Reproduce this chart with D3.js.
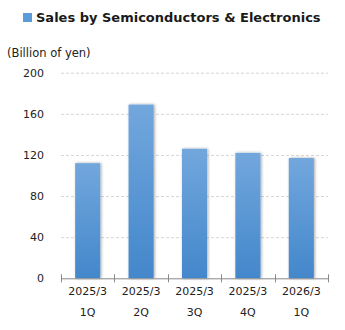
<!DOCTYPE html>
<html><head><meta charset="utf-8">
<script src="https://cdn.jsdelivr.net/npm/d3@7"></script>
<style>body{margin:0;background:#fff}svg{display:block}</style>
</head><body><svg id="c" width="345" height="330"></svg>
<script>
const categories = ["2025/3|1Q","2025/3|2Q","2025/3|3Q","2025/3|4Q","2026/3|1Q"];
const values = [112, 169, 126, 122, 117];
const yTicks = [0, 40, 80, 120, 160, 200];
const title = "Sales by Semiconductors & Electronics";
const unitLabel = "(Billion of yen)";

const svg = d3.select("#c");
const m = {l:61, r:328, t:72.7, b:278.3};
const x = d3.scaleBand().domain(categories).range([m.l, m.r]).paddingInner(0.53).paddingOuter(0.265);
const y = d3.scaleLinear().domain([0,200]).range([m.b, m.t]);

const defs = svg.append("defs");
const g = defs.append("linearGradient").attr("id","bg").attr("x1",0).attr("y1",0).attr("x2",0).attr("y2",1);
g.append("stop").attr("offset","0%").attr("stop-color","#72a7dd");
g.append("stop").attr("offset","100%").attr("stop-color","#4387cb");
const f = defs.append("filter").attr("id","sh").attr("x","-30%").attr("y","-10%").attr("width","160%").attr("height","120%");
f.append("feGaussianBlur").attr("in","SourceAlpha").attr("stdDeviation",1.5).attr("result","b");
f.append("feOffset").attr("in","b").attr("dx",1).attr("dy",0).attr("result","o");
f.append("feComponentTransfer").attr("in","o").attr("result","o2").append("feFuncA").attr("type","linear").attr("slope",0.35);
const mg = f.append("feMerge"); mg.append("feMergeNode").attr("in","o2"); mg.append("feMergeNode").attr("in","SourceGraphic");

// title
svg.append("rect").attr("x",23).attr("y",13).attr("width",9).attr("height",9).attr("fill","#5b9bd9");
svg.append("text").attr("x",36).attr("y",22).attr("font-family","DejaVu Sans").attr("font-weight","bold")
  .attr("font-size","13px").attr("fill","#1a1a1a").text(title);
svg.append("text").attr("x",7).attr("y",57).attr("font-family","DejaVu Sans").attr("font-size","11.5px")
  .attr("fill","#222").text(unitLabel);

// grid
svg.append("g").selectAll("line").data(yTicks.filter(d=>d>0)).join("line")
  .attr("x1",m.l).attr("x2",m.r).attr("y1",d=>y(d)+0.5).attr("y2",d=>y(d)+0.5)
  .attr("stroke","#d6d6d6").attr("stroke-dasharray","3,2");

// y labels
const ya = svg.append("g").attr("transform",`translate(${m.l},0)`)
  .call(d3.axisLeft(y).tickValues(yTicks).tickSize(0).tickPadding(17));
ya.select(".domain").remove();
ya.selectAll("text").attr("font-family","DejaVu Sans").attr("font-size","11px").attr("fill","#222");

// bars
svg.append("g").selectAll("rect").data(values).join("rect")
  .attr("x",(d,i)=>x(categories[i])).attr("width",x.bandwidth())
  .attr("y",d=>y(d)).attr("height",d=>y(0)-y(d))
  .attr("fill","url(#bg)").attr("filter","url(#sh)");

// x axis
const xa = svg.append("g").attr("transform",`translate(0,${m.b})`)
  .call(d3.axisBottom(x).tickSize(0).tickFormat(""));
xa.select(".domain").attr("stroke","#888");
const bounds = categories.map(c=>x(c)-x.step()*x.paddingInner()/2).concat([m.r]);
xa.append("g").selectAll("line").data(bounds).join("line")
  .attr("x1",d=>Math.round(d)+0.5).attr("x2",d=>Math.round(d)+0.5).attr("y1",-4).attr("y2",4).attr("stroke","#888");
const lab = svg.append("g").selectAll("g").data(categories).join("g")
  .attr("transform",c=>`translate(${x(c)+x.bandwidth()/2},0)`);
lab.append("text").attr("y",295).attr("text-anchor","middle").attr("font-family","DejaVu Sans").attr("font-size","11px").attr("fill","#222").text(c=>c.split("|")[0]);
lab.append("text").attr("y",316).attr("text-anchor","middle").attr("font-family","DejaVu Sans").attr("font-size","11px").attr("fill","#222").text(c=>c.split("|")[1]);
</script></body></html>
